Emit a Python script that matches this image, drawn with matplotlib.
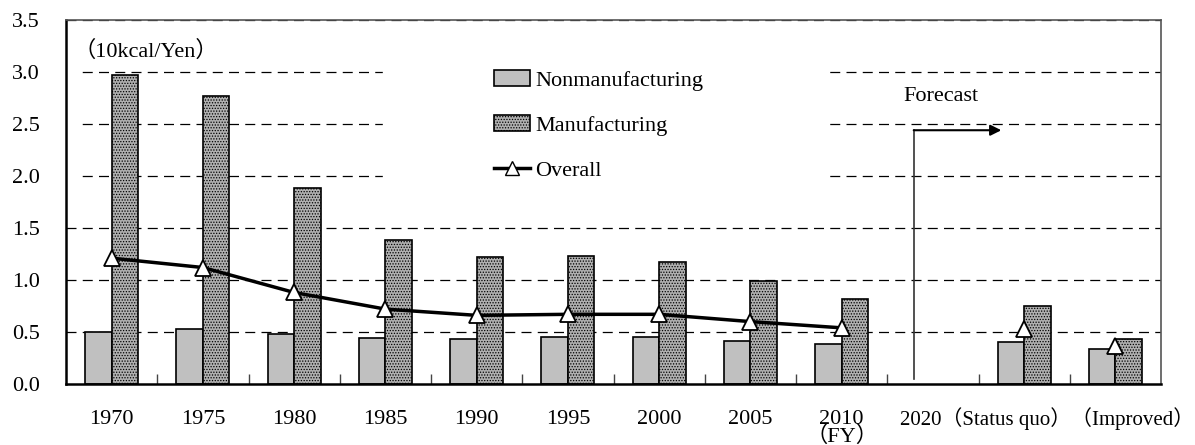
import numpy as np
import matplotlib
matplotlib.use("Agg")
import matplotlib.pyplot as plt
from matplotlib.patches import Rectangle, Patch
from matplotlib.lines import Line2D

plt.rcParams['font.family'] = ['Liberation Serif', 'Noto Sans CJK JP']
plt.rcParams['hatch.linewidth'] = 0.6

# categories (empty slot between 2010 and the 2020 forecasts)
labels = ["1970", "1975", "1980", "1985", "1990", "1995", "2000", "2005",
          "2010\n（FY）", "2020", "（Status quo）", "（Improved）"]
nonmanu = [0.50, 0.53, 0.48, 0.44, 0.43, 0.45, 0.45, 0.41, 0.385, np.nan, 0.40, 0.34]
manu = [2.97, 2.77, 1.88, 1.385, 1.22, 1.23, 1.17, 0.99, 0.82, np.nan, 0.75, 0.43]
overall = [1.21, 1.12, 0.88, 0.72, 0.66, 0.67, 0.67, 0.60, 0.54, np.nan, 0.53, 0.37]

x = np.arange(len(labels))
w = 0.29

fig = plt.figure(figsize=(11.95, 4.45), dpi=100)
ax = fig.add_axes([66/1195, 1-384/445, 1095/1195, 364/445])

ax.set_xlim(-0.5, len(labels) - 0.5)
ax.set_ylim(0, 3.5)
ax.set_yticks(np.arange(0, 3.51, 0.5))
ax.set_yticklabels(["%.1f" % v for v in np.arange(0, 3.51, 0.5)], fontsize=16)
ax.tick_params(axis='y', length=0, pad=19)

# gridlines
for yv in np.arange(0.5, 3.51, 0.5):
    ax.axhline(yv, color='black', lw=0.9, ls=(0, (8, 5)), zorder=0.5)
# white box behind legend/unit label hides gridlines
ax.add_patch(Rectangle(((383-66)/1095, 1.9), (823-383)/1095, 1.3,
                       transform=ax.get_yaxis_transform(), color='white', zorder=0.8))
ax.add_patch(Rectangle((0, 1.9), 14/1095, 1.3,
                       transform=ax.get_yaxis_transform(), color='white', zorder=0.8))

ax.bar(x - w/2, nonmanu, w, color='#c0c0c0', edgecolor='black', lw=1.2, zorder=2)
ax.bar(x + w/2, manu, w, color='#b0b0b0', edgecolor='black', lw=1.2,
       hatch='......', zorder=2)

hist = slice(0, 9)
ax.plot(x[hist], overall[hist], color='black', lw=2.5, zorder=3)
ax.plot(x, overall, ls='none', marker='^', ms=12, mfc='white', mec='black',
        mew=1.3, zorder=4)

# x ticks: labels at centres, short inward marks at slot boundaries
ax.set_xticks(x[:9])
ax.set_xticklabels(labels[:9], fontsize=16, linespacing=0.8)
ax.tick_params(axis='x', length=0, pad=19)
ax.set_xticks(np.arange(0.5, len(labels) - 1, 1), minor=True)
ax.tick_params(axis='x', which='minor', direction='in', length=7, width=1, color='#444444')
# forecast labels run together under the last slots, as in the source
xt = ax.get_xaxis_transform()
ax.text((900 - 66) / 91.25 - 0.5, -0.096, "".join(labels[9:]), transform=xt,
        fontsize=15, ha='left', va='center')

for s in ['left', 'bottom']:
    ax.spines[s].set_linewidth(1.8)
    ax.spines[s].set_color('black')
for s in ['top', 'right']:
    ax.spines[s].set_linewidth(1.2)
    ax.spines[s].set_color('#555555')

ax.text((146 - 66) / 91.25 - 0.5, 3.2, "（10kcal/Yen）", fontsize=16, va='center', ha='center')

# forecast marker
ax.plot([8.79, 8.79], [0.05, 2.44], color='#333333', lw=1.2, zorder=3)
ax.annotate("", xy=(9.75, 2.44), xytext=(8.79, 2.44),
            arrowprops=dict(arrowstyle='-|>', color='black', lw=1.5,
                            mutation_scale=16, shrinkA=0, shrinkB=0), zorder=3)
ax.text(9.09, 2.76, "Forecast", fontsize=16, ha='center', va='center')

handles = [Patch(facecolor='#c0c0c0', edgecolor='black', lw=1.2),
           Patch(facecolor='#b0b0b0', edgecolor='black', lw=1.2, hatch='......'),
           Line2D([], [], color='black', lw=2.5, marker='^', ms=10, mfc='white', mec='black')]
fig.legend(handles, ["Nonmanufacturing", "Manufacturing", "Overall"],
           loc='upper left', bbox_to_anchor=(494/1195, 1-70/445), frameon=False,
           fontsize=16, labelspacing=1.1, handlelength=1.6, handletextpad=0.25,
           borderpad=0, borderaxespad=0)

fig.savefig("out.png", dpi=100)
